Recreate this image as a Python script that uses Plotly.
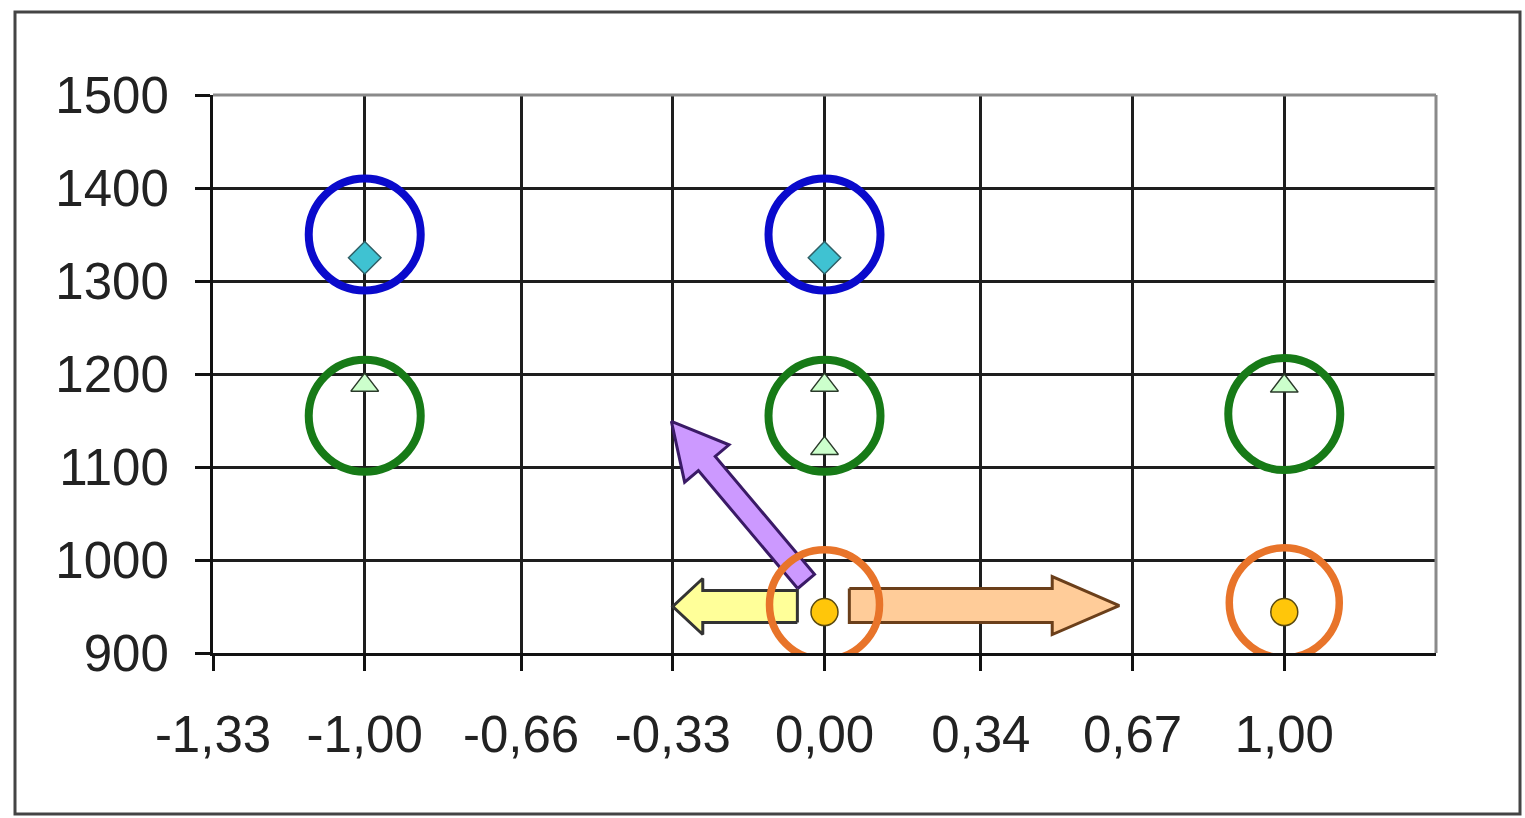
import plotly.graph_objects as go

# ---------------- data ----------------
x_tickvals = [-1.33, -1.00, -0.66, -0.33, 0.00, 0.34, 0.67, 1.00]
x_ticktext = ["-1,33", "-1,00", "-0,66", "-0,33", "0,00", "0,34", "0,67", "1,00"]
y_tickvals = [900, 1000, 1100, 1200, 1300, 1400, 1500]

blue_x = [-1.0, 0.0]
blue_y = [1350, 1350]
cyan_x = [-1.0, 0.0]
cyan_y = [1325, 1325]
green_x = [-1.0, 0.0, 1.0]
green_y = [1155, 1155, 1157]
tri_x = [-1.0, 0.0, 1.0, 0.0]
tri_y = [1188, 1188, 1187, 1120]
orange_x = [0.0, 1.0]
orange_y = [952, 954]
gold_x = [0.0, 1.0]
gold_y = [944, 944]

# arrows: tail (x, y) -> tip (x, y)
arrow_tail_x = [-0.04, -0.059, 0.054]
arrow_tail_y = [977, 950, 951]
arrow_tip_x = [-0.333, -0.330, 0.641]
arrow_tip_y = [1149, 950, 951]
arrow_fill = ["#cc99ff", "#ffff99", "#ffcc99"]
arrow_line = ["#3a1a66", "#333333", "#6b3f1a"]
arrow_shaft_px = [22, 32, 34]
arrow_headw_px = [58, 56, 58]
arrow_headl_px = [55, 30, 67]

# ---------------- layout constants ----------------
W, H = 1525, 818
ML, MR, MT, MB = 213, 89, 95, 165
XR = [-1.33, 1.33]
YR = [900, 1500]
sx = (W - ML - MR) / (XR[1] - XR[0])
sy = (H - MT - MB) / (YR[1] - YR[0])

fig = go.Figure()

# arrows (drawn first, under markers)
for i in range(len(arrow_tail_x)):
    tx, ty = arrow_tail_x[i] * sx, arrow_tail_y[i] * sy
    hx, hy = arrow_tip_x[i] * sx, arrow_tip_y[i] * sy
    dx, dy = hx - tx, hy - ty
    L = (dx * dx + dy * dy) ** 0.5
    ux, uy = dx / L, dy / L
    nx, ny = -uy, ux
    bx, by = hx - ux * arrow_headl_px[i], hy - uy * arrow_headl_px[i]
    s = arrow_shaft_px[i] / 2
    hw = arrow_headw_px[i] / 2
    pts = [
        (tx + nx * s, ty + ny * s),
        (bx + nx * s, by + ny * s),
        (bx + nx * hw, by + ny * hw),
        (hx, hy),
        (bx - nx * hw, by - ny * hw),
        (bx - nx * s, by - ny * s),
        (tx - nx * s, ty - ny * s),
        (tx + nx * s, ty + ny * s),
    ]
    fig.add_trace(go.Scatter(
        x=[p[0] / sx for p in pts], y=[p[1] / sy for p in pts],
        mode="lines", fill="toself", fillcolor=arrow_fill[i],
        line=dict(color=arrow_line[i], width=3), hoverinfo="skip",
        showlegend=False))

fig.add_trace(go.Scatter(x=blue_x, y=blue_y, mode="markers",
    marker=dict(symbol="circle-open", size=112, color="#0a0acc", line=dict(color="#0a0acc", width=8)),
    showlegend=False))
fig.add_trace(go.Scatter(x=green_x, y=green_y, mode="markers",
    marker=dict(symbol="circle-open", size=112, color="#177a17", line=dict(color="#177a17", width=8)),
    showlegend=False))
fig.add_trace(go.Scatter(x=orange_x, y=orange_y, mode="markers",
    marker=dict(symbol="circle-open", size=110, color="#e8742a", line=dict(color="#e8742a", width=7.5)),
    showlegend=False))
fig.add_trace(go.Scatter(x=cyan_x, y=cyan_y, mode="markers",
    marker=dict(symbol="diamond", size=25, color="#3fc2d2", line=dict(color="#2f5f66", width=1.5)),
    showlegend=False))
fig.add_trace(go.Scatter(x=tri_x, y=tri_y, mode="markers",
    marker=dict(symbol="triangle-up", size=24, color="#ccffcc", line=dict(color="#2a3a2a", width=1.5)),
    showlegend=False))
fig.add_trace(go.Scatter(x=gold_x, y=gold_y, mode="markers",
    marker=dict(symbol="circle", size=27, color="#ffc60a", line=dict(color="#5a4a10", width=1.5)),
    showlegend=False))

font_family = "Liberation Sans, Arial, sans-serif"

fig.update_layout(
    width=W, height=H,
    margin=dict(l=ML, r=MR, t=MT, b=MB, pad=0),
    paper_bgcolor="white", plot_bgcolor="white",
    showlegend=False,
    xaxis=dict(range=XR, tickvals=x_tickvals, ticktext=x_ticktext,
               showgrid=True, gridcolor="#1e1e1e", gridwidth=2.5,
               showline=True, linecolor="#111111", linewidth=3,
               ticks="outside", ticklen=15, tickwidth=3, tickcolor="#111111",
               ticklabelstandoff=20, zeroline=False,
               tickfont=dict(family=font_family, size=51, color="#222222")),
    yaxis=dict(range=YR, tickvals=y_tickvals,
               showgrid=True, gridcolor="#1e1e1e", gridwidth=3,
               showline=True, linecolor="#111111", linewidth=3,
               ticks="outside", ticklen=15, tickwidth=3, tickcolor="#111111",
               ticklabelstandoff=16, zeroline=False,
               tickfont=dict(family=font_family, size=51, color="#222222")),
)

# top and right plot-area edges (gray) and outer frame
fig.add_shape(type="line", xref="paper", yref="paper", x0=0, x1=1, y0=1, y1=1,
              line=dict(color="#8a8a8a", width=3), layer="above")
fig.add_shape(type="line", xref="paper", yref="paper", x0=1, x1=1, y0=0, y1=1,
              line=dict(color="#8a8a8a", width=3), layer="above")
pw = W - ML - MR
ph = H - MT - MB
fig.add_shape(type="rect", xref="paper", yref="paper",
              x0=(15 - ML) / pw, x1=(1520 - ML) / pw,
              y0=(H - MB - 814) / ph, y1=(H - MB - 12) / ph,
              line=dict(color="#444444", width=3), layer="below")

fig.write_html("out.html", config={"displayModeBar": False},
               post_script="document.body.style.margin='0';document.body.style.padding='0';document.body.style.overflow='hidden';")
